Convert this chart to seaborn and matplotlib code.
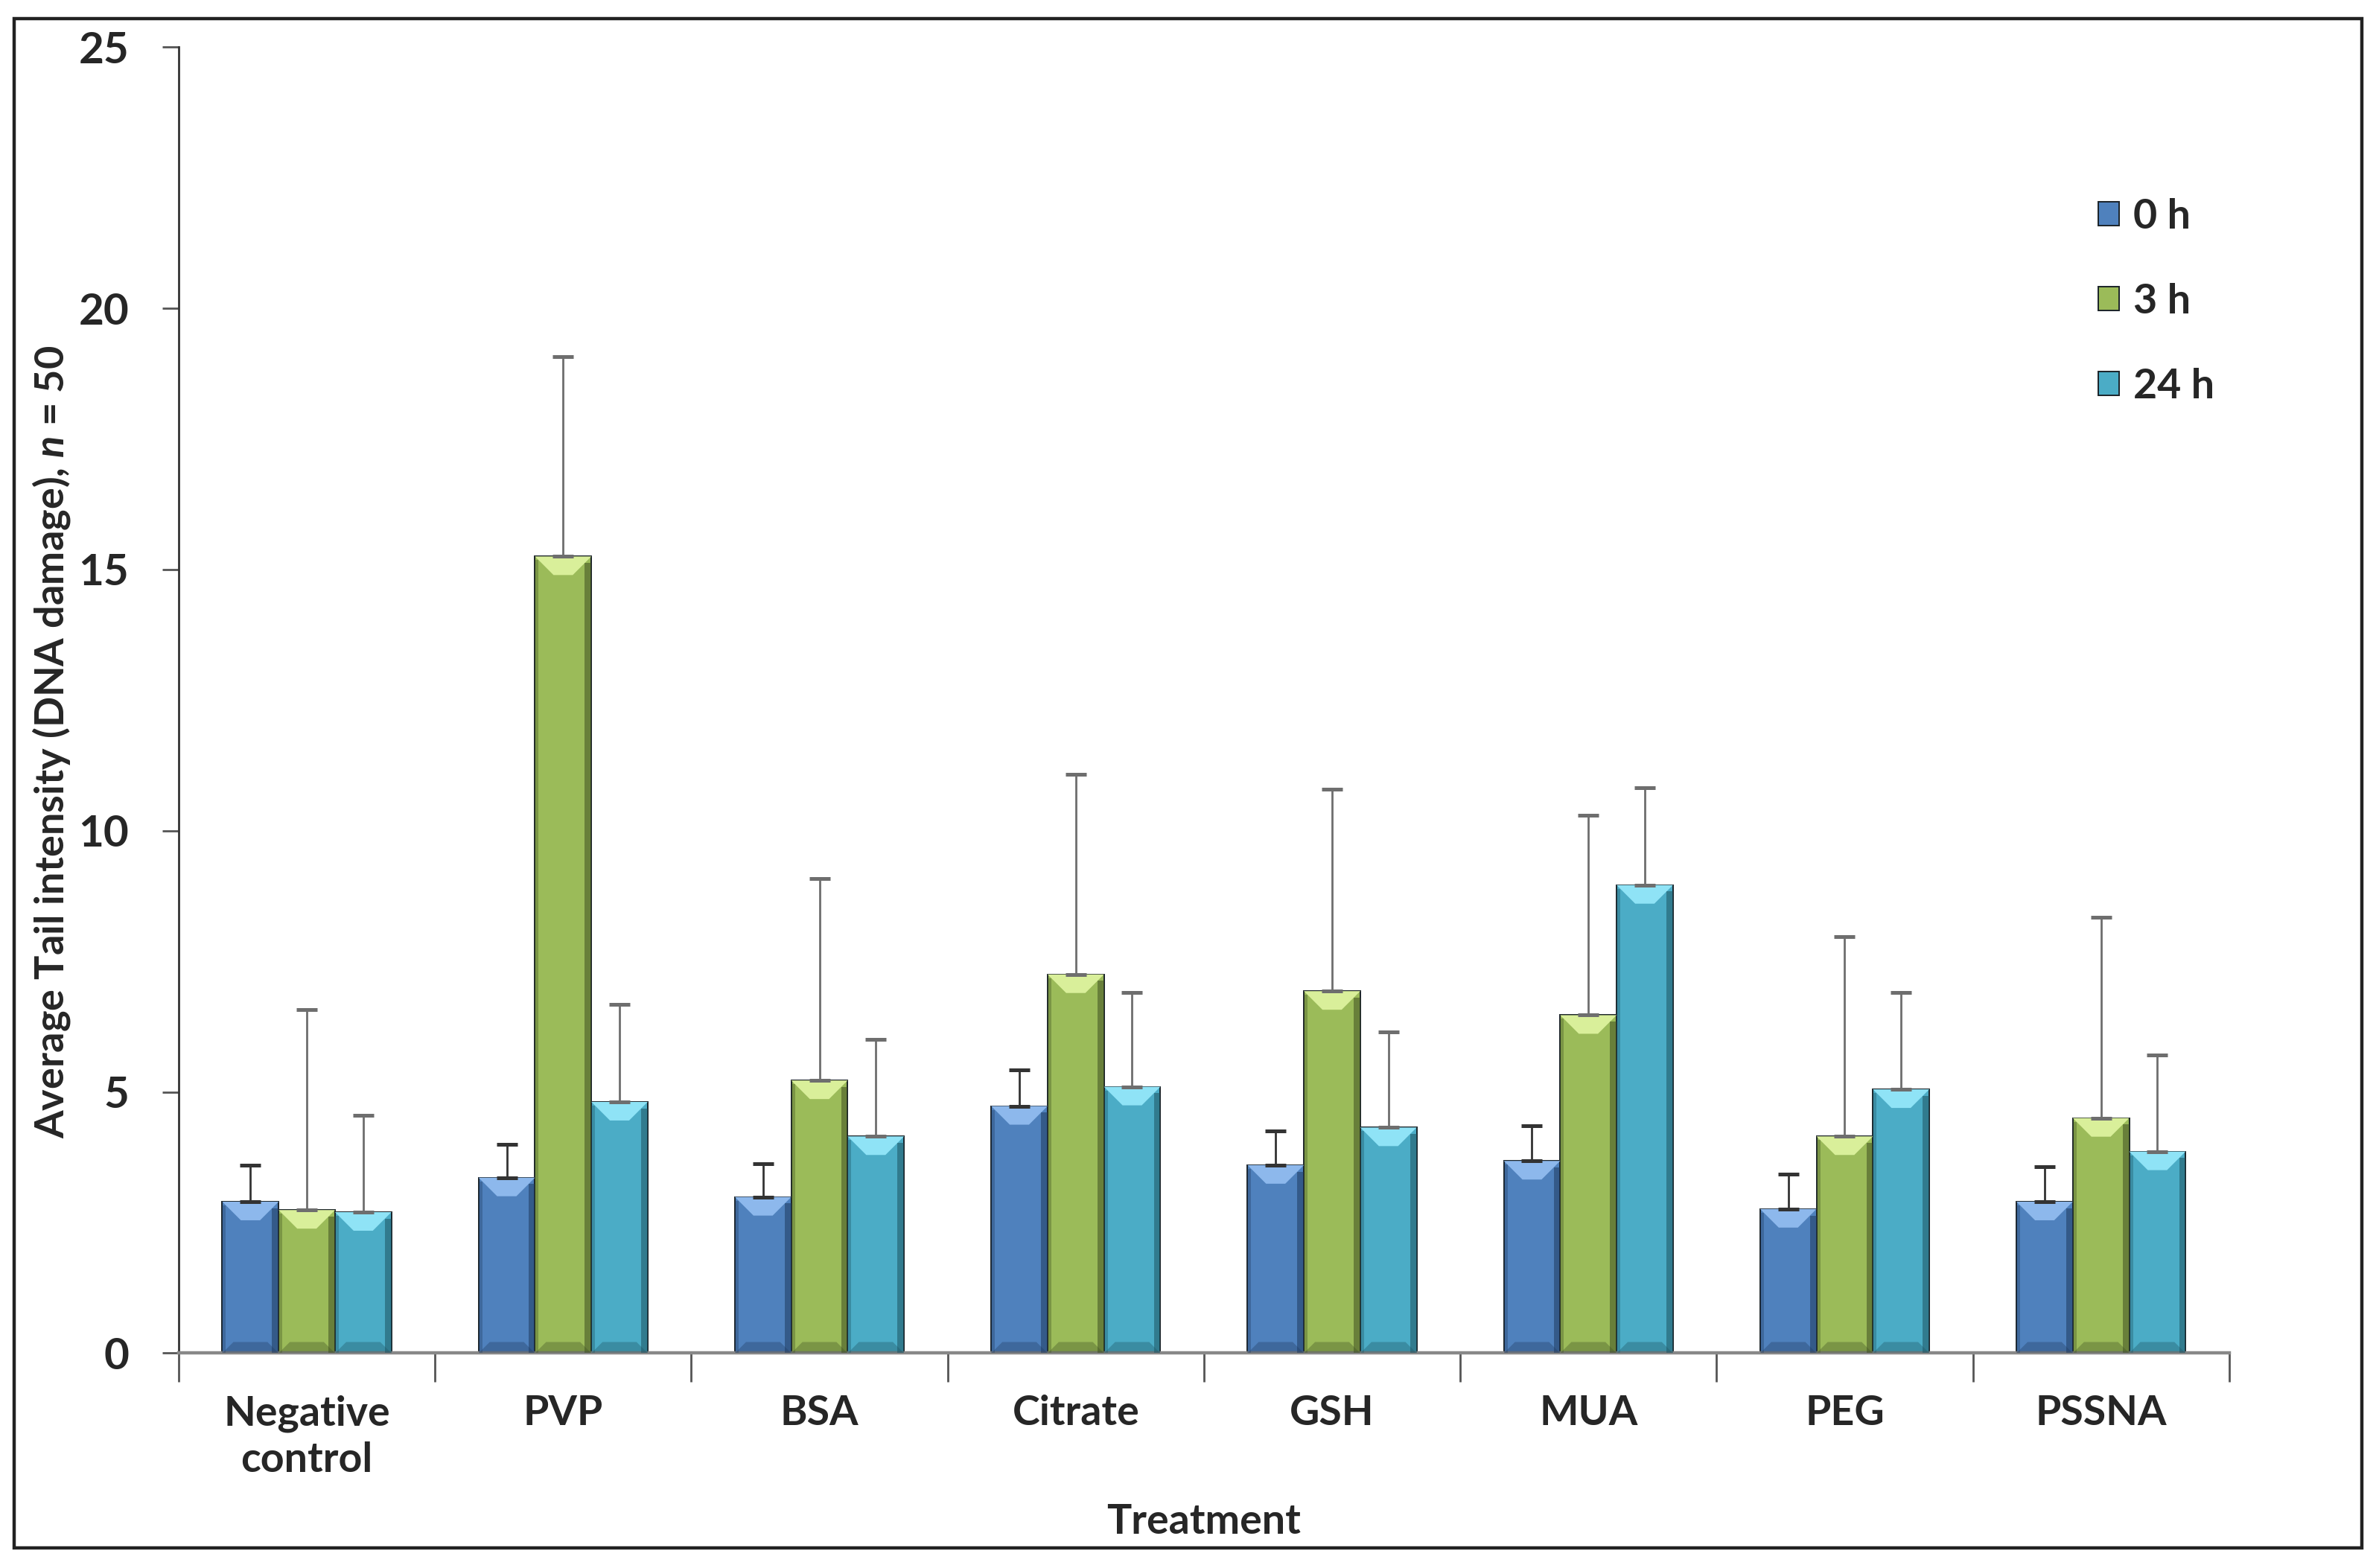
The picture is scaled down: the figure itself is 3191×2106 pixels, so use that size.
import numpy as np
import pandas as pd
import matplotlib
matplotlib.use("Agg")
import matplotlib.pyplot as plt
import seaborn as sns
from matplotlib.patches import Rectangle, Polygon

treatments = ["Negative\ncontrol", "PVP", "BSA", "Citrate", "GSH", "MUA", "PEG", "PSSNA"]
times = ["0 h", "3 h", "24 h"]

mean_0h = [2.90, 3.36, 2.99, 4.73, 3.60, 3.68, 2.76, 2.90]
mean_3h = [2.74, 15.25, 5.22, 7.25, 6.93, 6.47, 4.15, 4.50]
mean_24h = [2.70, 4.81, 4.15, 5.10, 4.32, 8.96, 5.05, 3.86]

sd_0h = [0.70, 0.64, 0.64, 0.69, 0.66, 0.67, 0.66, 0.67]
sd_3h = [3.84, 3.83, 3.86, 3.83, 3.86, 3.83, 3.83, 3.85]
sd_24h = [1.85, 1.86, 1.85, 1.80, 1.83, 1.86, 1.85, 1.85]

colors = ["#4F81BD", "#9BBB59", "#4BACC6"]
light = ["#8DB8EC", "#D9EF9A", "#8FE3F6"]
dark = ["#1F3A5F", "#3E4F22", "#1D5361"]
err_colors = ["#333333", "#6e6e6e", "#6e6e6e"]

df = pd.DataFrame({
    "Treatment": treatments * 3,
    "Time": np.repeat(times, len(treatments)),
    "Mean": mean_0h + mean_3h + mean_24h,
    "SD": sd_0h + sd_3h + sd_24h,
})

sns.set_theme(style="white")
plt.rcParams["font.family"] = ["Lato", "DejaVu Sans"]
plt.rcParams["font.weight"] = "bold"
plt.rcParams["mathtext.fontset"] = "custom"
plt.rcParams["mathtext.it"] = "Lato:italic:bold"

fig = plt.figure(figsize=(15.955, 10.53), dpi=200)
ax = fig.add_axes([0.0752, 0.137, 0.863, 0.833])

sns.barplot(data=df, x="Treatment", y="Mean", hue="Time", palette=colors,
            width=0.66, gap=0, errorbar=None, ax=ax, legend=True,
            edgecolor="#1a2228", linewidth=0.7, saturation=1)

ax.set_ylim(0, 25)
ax.set_xlim(-0.5, len(treatments) - 0.5)

# pixel aspect so the bevel keeps a 45 degree look
px_x = ax.bbox.width / (len(treatments))
px_y = ax.bbox.height / 25.0

# bevel look + upper error bars
for i, (t, cont) in enumerate(zip(times, ax.containers)):
    sub = df[df["Time"] == t]
    for bar, sd in zip(cont, sub["SD"]):
        x0 = bar.get_x()
        w = bar.get_width()
        h = bar.get_height()
        d = w * 0.33
        dy = d * px_x / px_y
        ax.add_patch(Polygon([(x0, h), (x0 + w, h), (x0 + w - d, h - dy), (x0 + d, h - dy)],
                             closed=True, facecolor=light[i], edgecolor="none", zorder=3))
        ax.add_patch(Rectangle((x0 + w - d * 0.35, 0), d * 0.35, h - dy * 0.35,
                               facecolor=dark[i], alpha=0.55, edgecolor="none", zorder=3))
        ax.add_patch(Rectangle((x0, 0), d * 0.2, h - dy * 0.2,
                               facecolor=dark[i], alpha=0.35, edgecolor="none", zorder=3))
        ax.add_patch(Polygon([(x0, 0), (x0 + w, 0), (x0 + w - d * 0.6, dy * 0.6),
                              (x0 + d * 0.6, dy * 0.6)],
                             closed=True, facecolor=dark[i], alpha=0.35, edgecolor="none", zorder=3))
        ax.errorbar(x0 + w / 2, h, yerr=[[0], [sd]], fmt="none", ecolor=err_colors[i],
                    elinewidth=1.0, capsize=5, capthick=1.8, zorder=4)

ax.set_yticks([0, 5, 10, 15, 20, 25])
ax.set_xticks(np.arange(len(treatments)))
ax.set_xticklabels(treatments, fontsize=20, fontweight="bold", linespacing=1.3)
ax.tick_params(axis="y", labelsize=21, length=8, width=1.0, color="#555555", direction="out",
               left=True, pad=16)
ax.tick_params(axis="x", length=0, pad=20)
for lab in ax.get_yticklabels():
    lab.set_fontweight("bold")

# category separators on the x axis
ax.set_xticks(np.arange(len(treatments) + 1) - 0.5, minor=True)
ax.tick_params(axis="x", which="minor", length=14, width=1.0, color="#555555", direction="out",
               bottom=True)

sns.despine(ax=ax, top=True, right=True)
ax.spines["left"].set_color("#333333")
ax.spines["bottom"].set_color("#888888")
ax.spines["left"].set_linewidth(1.0)
ax.spines["bottom"].set_linewidth(1.6)

ax.set_xlabel("Treatment", fontsize=20, fontweight="bold", labelpad=12)
ax.set_ylabel(r"Average Tail intensity (DNA damage), $n$ = 50", fontsize=19.5,
              fontweight="bold")
ax.yaxis.set_label_coords(-0.052, 0.468)

handles, labels = ax.get_legend_handles_labels()
ax.legend(handles, labels, loc="upper right", bbox_to_anchor=(1.011, 0.913), frameon=False,
          handlelength=0.5, handleheight=0.5, handletextpad=0.35,
          labelspacing=1.15, prop={"weight": "bold", "size": 20})

fig.patches.append(Rectangle((0.006, 0.013), 0.988, 0.975, transform=fig.transFigure,
                             fill=False, edgecolor="#222222", linewidth=1.6))

fig.savefig("out.png", dpi=200)
